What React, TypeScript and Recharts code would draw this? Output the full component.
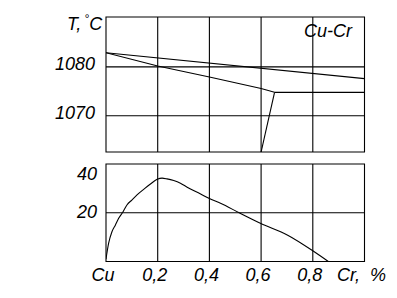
import React from "react";
import {
  LineChart,
  Line,
  XAxis,
  YAxis,
  ReferenceLine,
  ReferenceArea,
} from "recharts";

// ---- data ----
const T_MIN = 1062.6;
const T_MAX = 1090.2;
const T_TICKS = [1070, 1080];
const K_TICKS = [20, 40];
const X_TICKS = [0, 0.2, 0.4, 0.6, 0.8, 1.0];
const X_LABELS = ["Cu", "0,2", "0,4", "0,6", "0,8", "Cr,  %"];
const X_GRID = [0.2, 0.4, 0.6, 0.8];

const upperLine = [
  { x: 0, t: 1082.9 },
  { x: 1.0, t: 1077.6 },
];
const lowerLine = [
  { x: 0, t: 1082.9 },
  { x: 0.2, t: 1080.2 },
  { x: 0.4, t: 1077.95 },
  { x: 0.6, t: 1075.6 },
  { x: 0.652, t: 1074.8 },
];
const eutecticLine = [
  { x: 0.652, t: 1074.8 },
  { x: 1.0, t: 1074.8 },
];
const solvusLine = [
  { x: 0.652, t: 1074.8 },
  { x: 0.6, t: T_MIN },
];

const curveX = [0, 0.01, 0.023, 0.036, 0.049, 0.066, 0.081, 0.1, 0.12, 0.146, 0.172, 0.198, 0.217, 0.236, 0.262, 0.288, 0.314, 0.366, 0.398, 0.443, 0.515, 0.599, 0.703, 0.8, 0.86];
const curveY = [1, 7.4, 12.2, 14.9, 17.7, 20.4, 23.2, 25.2, 27.3, 29.6, 31.8, 33.7, 34.2, 33.9, 33.2, 32.1, 30.5, 27.7, 25.9, 23.9, 20.0, 15.6, 10.8, 4.4, 0];
const curve = curveX.map((x, i) => ({ x, k: curveY[i] }));

// ---- styles ----
const FONT = "'Liberation Sans', Arial, sans-serif";
const FS = 18;
const textStyle: React.CSSProperties = {
  fontFamily: FONT,
  fontStyle: "italic",
  fontSize: FS,
  fill: "#000",
};
const INK = "#000";
const LW = 1.1;

const TopYTick = (props: any) => {
  const { y, payload } = props;
  return (
    <text x={95} y={y + 3.5} textAnchor="end" style={textStyle}>
      {payload.value}
    </text>
  );
};

const BottomYTick = (props: any) => {
  const { y, payload } = props;
  const dy = payload.value === 40 ? 15.5 : 5.5;
  return (
    <text x={97} y={y + dy} textAnchor="end" style={textStyle}>
      {payload.value}
    </text>
  );
};

const BottomXTick = (props: any) => {
  const { x, payload } = props;
  const idx = X_TICKS.indexOf(payload.value);
  const label = idx >= 0 ? X_LABELS[idx] : String(payload.value);
  return (
    <text x={x - 3} y={280.5} textAnchor="middle" style={{ ...textStyle, whiteSpace: "pre" }} xmlSpace="preserve">
      {label}
    </text>
  );
};

const W = 397;
const H = 298;

export default function App() {
  return (
    <div
      style={{
        position: "absolute",
        left: 0,
        top: 0,
        width: W,
        height: H,
        background: "#fff",
        overflow: "hidden",
      }}
    >
      <div style={{ position: "absolute", left: 0, top: 0 }}>
        <LineChart
          width={W}
          height={H}
          margin={{ top: 17, right: 32.5, left: 0, bottom: 146 }}
        >
          <XAxis type="number" dataKey="x" domain={[0, 1]} hide allowDataOverflow />
          <YAxis
            type="number"
            domain={[T_MIN, T_MAX]}
            ticks={T_TICKS}
            width={106}
            axisLine={false}
            tickLine={false}
            tick={<TopYTick />}
            allowDataOverflow
            interval={0}
          />
          {X_GRID.map((v) => (
            <ReferenceLine key={"tx" + v} x={v} stroke={INK} strokeWidth={LW} />
          ))}
          {T_TICKS.map((v) => (
            <ReferenceLine key={"ty" + v} y={v} stroke={INK} strokeWidth={LW} />
          ))}
          <ReferenceArea
            x1={0}
            x2={1}
            y1={T_MIN}
            y2={T_MAX}
            fill="#fff"
            fillOpacity={0}
            stroke={INK}
            strokeWidth={LW}
          />
          <Line data={upperLine} dataKey="t" type="linear" stroke={INK} strokeWidth={LW} dot={false} isAnimationActive={false} />
          <Line data={lowerLine} dataKey="t" type="linear" stroke={INK} strokeWidth={LW} dot={false} isAnimationActive={false} />
          <Line data={eutecticLine} dataKey="t" type="linear" stroke={INK} strokeWidth={LW} dot={false} isAnimationActive={false} />
          <Line data={solvusLine} dataKey="t" type="linear" stroke={INK} strokeWidth={LW} dot={false} isAnimationActive={false} />
        </LineChart>
      </div>

      <div style={{ position: "absolute", left: 0, top: 0 }}>
        <LineChart
          width={W}
          height={H}
          margin={{ top: 164, right: 32.5, left: 0, bottom: 0 }}
        >
          <XAxis
            type="number"
            dataKey="x"
            domain={[0, 1]}
            ticks={X_TICKS}
            interval={0}
            height={36.5}
            axisLine={false}
            tickLine={false}
            tick={<BottomXTick />}
            allowDataOverflow
          />
          <YAxis
            type="number"
            domain={[0, 40]}
            ticks={K_TICKS}
            width={106}
            axisLine={false}
            tickLine={false}
            tick={<BottomYTick />}
            interval={0}
            allowDataOverflow
          />
          {X_GRID.map((v) => (
            <ReferenceLine key={"bx" + v} x={v} stroke={INK} strokeWidth={LW} />
          ))}
          <ReferenceLine y={20} stroke={INK} strokeWidth={LW} />
          <ReferenceArea
            x1={0}
            x2={1}
            y1={0}
            y2={40}
            fill="#fff"
            fillOpacity={0}
            stroke={INK}
            strokeWidth={LW}
          />
          <Line data={curve} dataKey="k" type="monotone" stroke={INK} strokeWidth={LW} dot={false} isAnimationActive={false} />
        </LineChart>
      </div>

      <div
        style={{
          position: "absolute",
          left: 67,
          top: 9,
          fontFamily: FONT,
          fontStyle: "italic",
          fontSize: FS,
          lineHeight: "20px",
          color: "#000",
          whiteSpace: "nowrap",
        }}
      >
        T,<span style={{ fontSize: 12, verticalAlign: "7px", marginLeft: 3 }}>°</span>C
      </div>
      <div
        style={{
          position: "absolute",
          left: 304,
          top: 21,
          fontFamily: FONT,
          fontStyle: "italic",
          fontSize: FS,
          lineHeight: "20px",
          color: "#000",
          whiteSpace: "nowrap",
        }}
      >
        Cu-Cr
      </div>
    </div>
  );
}
